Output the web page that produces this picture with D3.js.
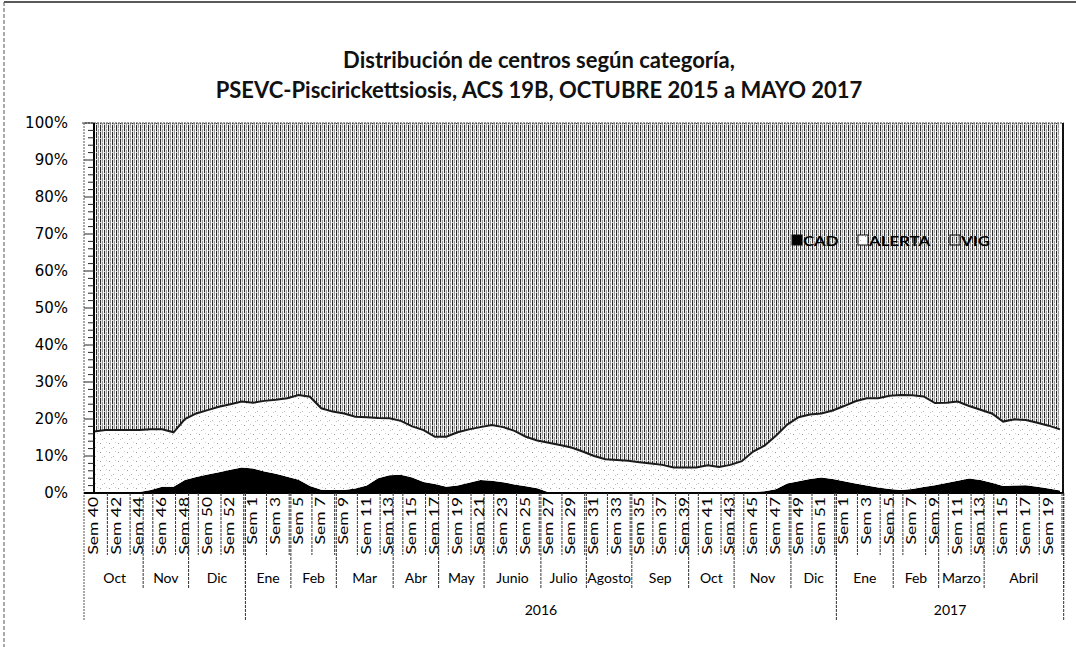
<!DOCTYPE html>
<html>
<head>
<meta charset="utf-8">
<script src="https://cdn.jsdelivr.net/npm/d3@7"></script>
<style>
  html, body { margin: 0; padding: 0; background: #fff; }
  svg { display: block; }
</style>
</head>
<body>
<svg id="chart" width="1076" height="647"></svg>
<script>
// ---------------- DATA ----------------
const titleLines = [
  "Distribución de centros según categoría,",
  "PSEVC-Piscirickettsiosis, ACS 19B, OCTUBRE 2015 a MAYO 2017"
];
const seriesKeys = ["CAD", "ALERTA", "VIG"];

const weekNums = [
  40,41,42,43,44,45,46,47,48,49,50,51,52,53,
  1,2,3,4,5,6,7,8,9,10,11,12,13,14,15,16,17,18,19,20,21,22,23,24,25,26,
  27,28,29,30,31,32,33,34,35,36,37,38,39,40,41,42,43,44,45,46,47,48,49,50,51,52,
  1,2,3,4,5,6,7,8,9,10,11,12,13,14,15,16,17,18,19,20
];

// percentages per week
const CAD = [
  0.2,0.2,0.2,0.3,0.3,0.8,1.7,1.7,3.5,4.3,5.0,5.6,6.3,6.9,
  6.6,5.8,5.2,4.4,3.6,1.9,0.9,0.8,0.8,1.2,2.0,4.0,4.8,4.9,4.2,3.0,2.4,1.7,2.0,2.8,3.5,3.3,2.9,2.3,1.8,1.3,
  0.2,0,0,0,0,0,0,0,0,0,0,0,0,0,0,0,0,0,0.2,0.5,1.0,2.6,3.2,3.8,4.2,3.8,
  3.2,2.6,2.0,1.5,1.1,0.8,1.1,1.6,2.1,2.7,3.3,3.9,3.5,2.8,1.9,2.0,2.1,1.7,1.2,0.7
];
const ALERTA = [
  16.4,16.8,16.8,16.7,16.7,16.4,15.5,14.7,16.5,17.2,17.4,17.7,17.7,17.8,
  17.8,19.1,20.0,21.2,22.9,24.1,22.0,21.2,20.7,19.4,18.5,16.3,15.4,14.6,13.8,14.0,12.8,13.5,14.4,14.4,14.3,15.1,14.9,14.5,13.4,12.9,
  13.4,13.0,12.3,11.2,10.0,9.1,8.9,8.7,8.3,8.0,7.6,6.9,6.9,6.9,7.5,7.0,7.6,8.6,11.0,12.3,14.5,15.9,17.3,17.4,17.3,18.5,
  20.3,22.2,23.6,24.1,25.2,25.7,25.3,24.5,22.2,21.7,21.4,19.6,19.0,18.7,17.4,17.9,17.6,17.3,17.0,16.5
];
const VIG = [
  83.4,83.0,83.0,83.0,83.0,82.8,82.8,83.6,80.0,78.5,77.6,76.7,76.0,75.3,
  75.6,75.1,74.8,74.4,73.5,74.0,77.1,78.0,78.5,79.4,79.5,79.7,79.8,80.5,82.0,83.0,84.8,84.8,83.6,82.8,82.2,81.6,82.2,83.2,84.8,85.8,
  86.4,87.0,87.7,88.8,90.0,90.9,91.1,91.3,91.7,92.0,92.4,93.1,93.1,93.1,92.5,93.0,92.4,91.4,88.8,87.2,84.5,81.5,79.5,78.8,78.5,77.7,
  76.5,75.2,74.4,74.4,73.7,73.5,73.6,73.9,75.7,75.6,75.3,76.5,77.5,78.5,80.7,80.1,80.3,81.0,81.8,82.8
];

const monthNames = ["Oct","Nov","Dic","Ene","Feb","Mar","Abr","May","Junio","Julio","Agosto","Sep","Oct","Nov","Dic","Ene","Feb","Marzo","Abril"];
const monthWeeks = [5,4,5, 4,4,5,4,4,5,4,4,5,4,5,4, 5,4,4,7];
const yearNames = ["", "2016", "2017"];
const yearWeeks = [14, 52, 20];
const yTicks = [0,10,20,30,40,50,60,70,80,90,100];

// ---------------- LAYOUT ----------------
const svg = d3.select("#chart");
const L = 94, R = 1060, T = 123, B = 493;
const FONT = "Lato, 'Open Sans', sans-serif";

const data = weekNums.map((w, i) => ({ i, week: w, CAD: CAD[i], ALERTA: ALERTA[i], VIG: VIG[i] }));
const x = d3.scaleLinear().domain([0, data.length - 1]).range([L, R]);
const y = d3.scaleLinear().domain([0, 1]).range([B, T]);

const stack = d3.stack().keys(seriesKeys).offset(d3.stackOffsetExpand);
const layers = stack(data);

// ---------------- PATTERNS ----------------
const defs = svg.append("defs");
const pv = defs.append("pattern").attr("id", "pVIG").attr("patternUnits", "userSpaceOnUse")
  .attr("width", 4).attr("height", 7);
[["#2a2a2a",0],["#e4e4e4",1],["#9c9c9c",2],["#fcfcfc",3]].forEach(([c, px]) =>
  pv.append("rect").attr("x", px).attr("y", 0).attr("width", 1).attr("height", 7).attr("fill", c));
pv.append("rect").attr("x", 0).attr("y", 5).attr("width", 1).attr("height", 1).attr("fill", "#ccc");
pv.append("rect").attr("x", 2).attr("y", 2).attr("width", 1).attr("height", 1).attr("fill", "#ddd");

const pa = defs.append("pattern").attr("id", "pALERTA").attr("patternUnits", "userSpaceOnUse")
  .attr("width", 9).attr("height", 9);
pa.append("rect").attr("width", 9).attr("height", 9).attr("fill", "#fff");
[[1,2,"#9a9a9a"],[5,6,"#b5b5b5"],[7,1,"#cfcfcf"],[3,7,"#c4c4c4"]].forEach(([px,py,c]) =>
  pa.append("rect").attr("x", px).attr("y", py).attr("width", 1).attr("height", 1).attr("fill", c));

const fills = { CAD: "#000", ALERTA: "url(#pALERTA)", VIG: "url(#pVIG)" };

// ---------------- FRAME ----------------
svg.append("line").attr("x1", 4).attr("x2", 1076).attr("y1", 2).attr("y2", 2)
  .attr("stroke", "#222").attr("stroke-width", 1.5);
svg.append("line").attr("x1", 4).attr("x2", 4).attr("y1", 2).attr("y2", 647)
  .attr("stroke", "#555").attr("stroke-width", 1).attr("stroke-dasharray", "4,2");

// ---------------- TITLE ----------------
titleLines.forEach((t, k) => {
  svg.append("text").attr("x", 539).attr("y", 68 + k * 30)
    .attr("text-anchor", "middle").attr("font-family", FONT).attr("font-weight", 700)
    .attr("font-size", 22).attr("fill", "#111").text(t);
});

// ---------------- AREAS ----------------
const area = d3.area().x(d => x(d.data.i)).y0(d => y(d[0])).y1(d => y(d[1]));
svg.append("g").selectAll("path").data(layers).join("path")
  .attr("d", area).attr("fill", d => fills[d.key]);

// boundary line on top of ALERTA
const topLine = d3.line().x(d => x(d.data.i)).y(d => y(d[1]));
svg.append("path").datum(layers[1]).attr("d", topLine)
  .attr("fill", "none").attr("stroke", "#1a1a1a").attr("stroke-width", 2);

// plot border
svg.append("line").attr("x1", 82).attr("x2", 1064).attr("y1", T).attr("y2", T)
  .attr("stroke", "#444").attr("stroke-dasharray", "2,1");
svg.append("line").attr("x1", 1063).attr("x2", 1063).attr("y1", T).attr("y2", B)
  .attr("stroke", "#111").attr("stroke-width", 2);

// ---------------- Y AXIS ----------------
const yAxis = svg.append("g");
yAxis.append("line").attr("x1", L).attr("x2", L).attr("y1", T).attr("y2", B)
  .attr("stroke", "#000").attr("stroke-width", 2);
d3.range(0, 101, 2).forEach(v => {
  const major = v % 10 === 0;
  yAxis.append("line").attr("x1", major ? 84 : 88).attr("x2", L).attr("y1", y(v / 100)).attr("y2", y(v / 100))
    .attr("stroke", "#222").attr("stroke-width", 1);
});
yAxis.selectAll("text").data(yTicks).join("text")
  .attr("x", 68).attr("y", d => y(d / 100) + 5)
  .attr("text-anchor", "end").attr("font-family", "'DejaVu Sans', Verdana, sans-serif")
  .attr("font-size", 15).attr("fill", "#000").text(d => d + "%");

// left vertical dashed line of plot region
svg.append("line").attr("x1", 84).attr("x2", 84).attr("y1", T).attr("y2", 621)
  .attr("stroke", "#555").attr("stroke-dasharray", "2,1");

// ---------------- X AXIS ----------------
const xAxis = svg.append("g");
xAxis.append("line").attr("x1", 84).attr("x2", 1064).attr("y1", B).attr("y2", B)
  .attr("stroke", "#000").attr("stroke-width", 2);

// week separators
data.filter(d => d.i % 2 === 1).forEach(d => {
  xAxis.append("line").attr("x1", x(d.i) + 2).attr("x2", x(d.i) + 2).attr("y1", B).attr("y2", 555)
    .attr("stroke", "#333").attr("stroke-dasharray", "3,1");
});
// week labels
data.filter(d => d.i % 2 === 0).forEach(d => {
  xAxis.append("text")
    .attr("transform", `translate(${x(d.i) + 4},497) rotate(-90) scale(1.45,1.05)`)
    .attr("text-anchor", "end").attr("font-family", FONT).attr("font-size", 12)
    .attr("fill", "#000").text("Sem " + d.week);
});

// month groups
let start = 0;
monthNames.forEach((m, k) => {
  const end = start + monthWeeks[k];
  const xs = x(start - 0.5) - 2, xe = x(end - 0.5) - 2;
  xAxis.append("text").attr("x", (xs + xe) / 2).attr("y", 583)
    .attr("text-anchor", "middle").attr("font-family", FONT).attr("font-size", 14)
    .attr("fill", "#000").text(m);
  xAxis.append("line").attr("x1", xe).attr("x2", xe).attr("y1", B).attr("y2", 588)
    .attr("stroke", "#333").attr("stroke-dasharray", "3,1");
  start = end;
});

// year groups
start = 0;
yearNames.forEach((yn, k) => {
  const end = start + yearWeeks[k];
  const xs = x(start - 0.5) - 2, xe = x(end - 0.5) - 2;
  xAxis.append("text").attr("x", (xs + xe) / 2).attr("y", 615)
    .attr("text-anchor", "middle").attr("font-family", FONT).attr("font-size", 14)
    .attr("fill", "#000").text(yn);
  xAxis.append("line").attr("x1", xe).attr("x2", xe).attr("y1", B).attr("y2", 621)
    .attr("stroke", "#333").attr("stroke-dasharray", "3,1");
  start = end;
});

// ---------------- LEGEND ----------------
const legendPos = { CAD: 792, ALERTA: 858, VIG: 950 };
seriesKeys.forEach(k => {
  const lx = legendPos[k];
  svg.append("rect").attr("x", lx).attr("y", 235).attr("width", 10).attr("height", 10)
    .attr("fill", fills[k]).attr("stroke", "#111").attr("stroke-width", 1);
  svg.append("text").attr("transform", `translate(${lx + 11},246) scale(1.2,1)`)
    .attr("font-family", FONT).attr("font-weight", 700).attr("font-size", 14)
    .attr("fill", "#000").text(k);
});
</script>
</body>
</html>
